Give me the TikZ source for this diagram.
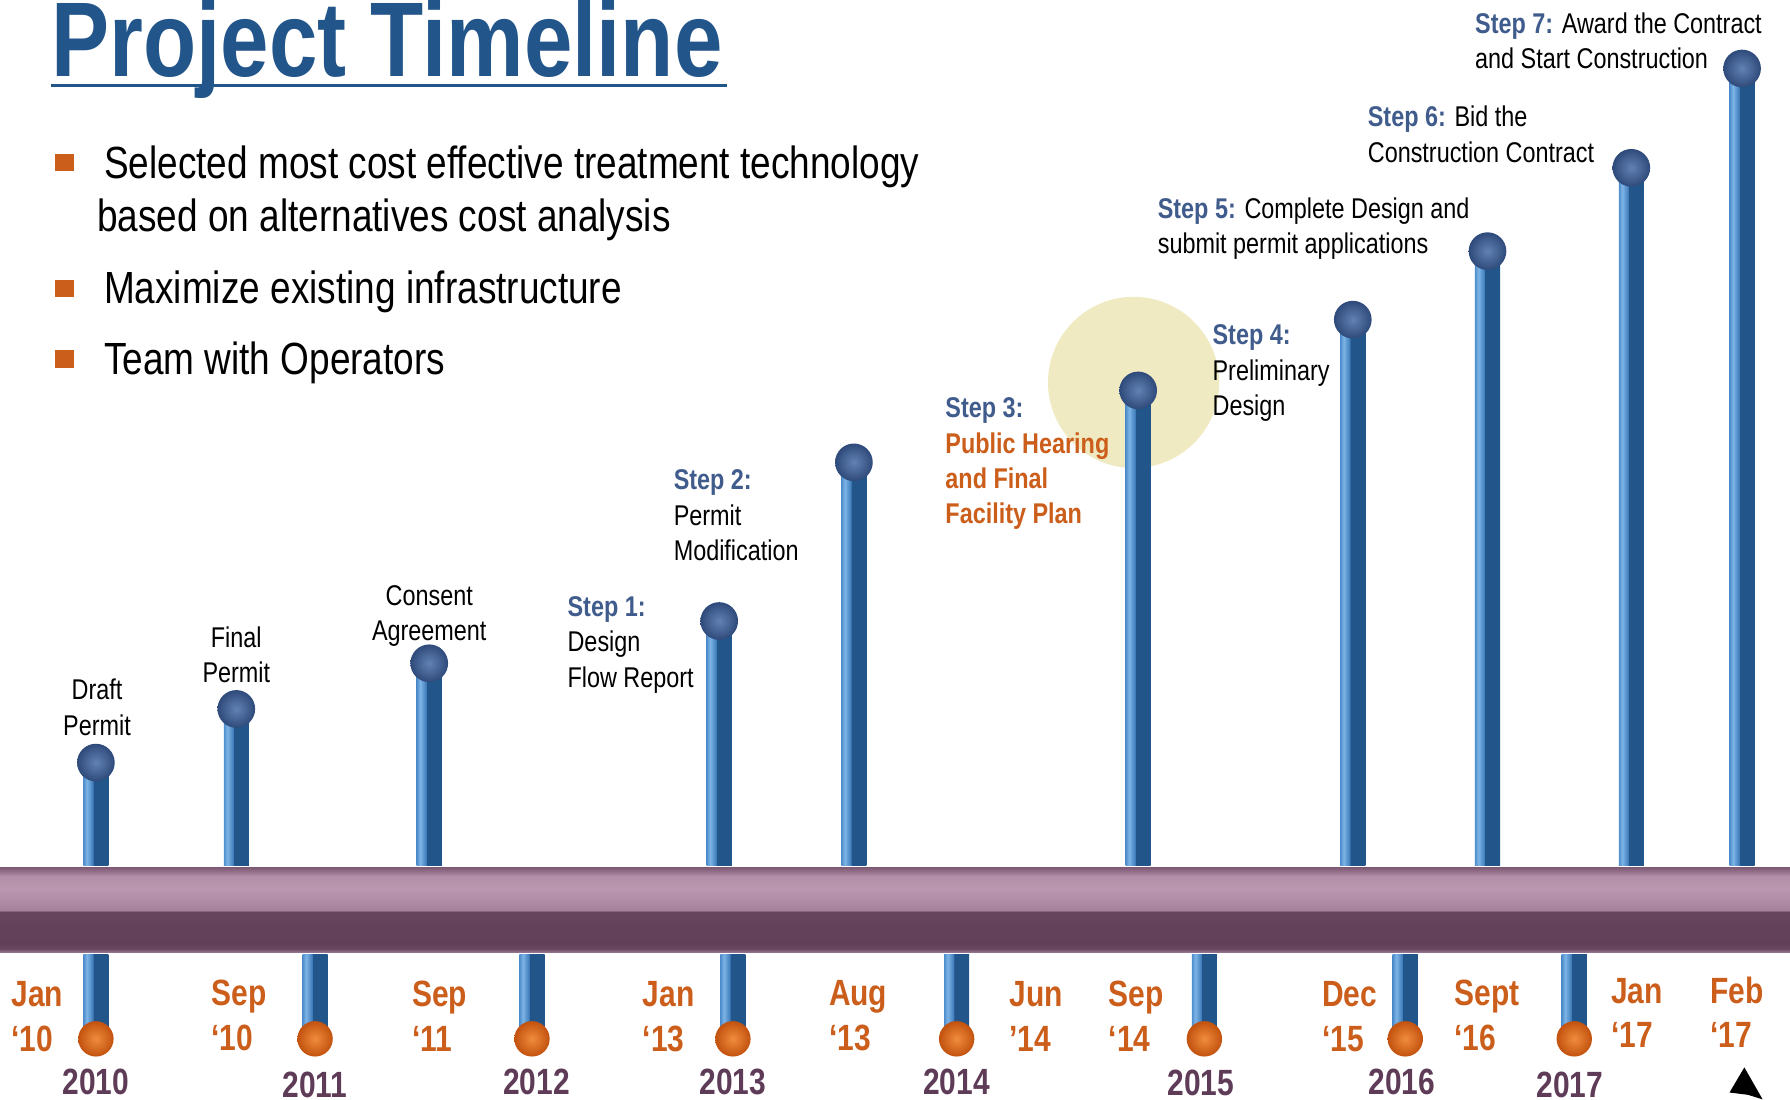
\documentclass[tikz,border=0pt]{standalone}
\usepackage{fontspec}
\setmainfont{Liberation Sans}[FakeStretch=0.82]
\usepackage{tikz}
\usetikzlibrary{positioning}

\definecolor{titleblue}{HTML}{22558A}
\definecolor{stepblue}{HTML}{3F5C8C}
\definecolor{orangetext}{HTML}{CC5E1C}
\definecolor{yearpurple}{HTML}{5E3B57}
\definecolor{yellowglow}{HTML}{F0EAC3}
\definecolor{ballhi}{HTML}{6282B4}
\definecolor{balldark}{HTML}{2E4A7A}
\definecolor{orangehi}{HTML}{F08C3C}
\definecolor{orangedark}{HTML}{C2520F}
\definecolor{stemedge}{HTML}{4F8DCC}
\definecolor{stemlight}{HTML}{7DB4E6}
\definecolor{stemmid}{HTML}{3F7CBA}
\definecolor{stemdark}{HTML}{22568A}
\definecolor{bartop}{HTML}{7F5B76}
\definecolor{barlight}{HTML}{BB97B0}
\definecolor{barmid}{HTML}{A6819B}
\definecolor{bardark}{HTML}{623F58}
\definecolor{barbottom}{HTML}{937490}

\pgfdeclarehorizontalshading{stemshade}{100bp}{color(0bp)=(stemedge);
  color(25bp)=(stemedge); color(32bp)=(stemlight); color(44bp)=(stemmid);
  color(45bp)=(stemdark); color(75bp)=(stemdark); color(100bp)=(stemdark)}
\pgfdeclareverticalshading{barshade}{100bp}{color(0bp)=(barbottom);
  color(25bp)=(barbottom); color(27bp)=(bardark!85!barbottom); color(30bp)=(bardark);
  color(49bp)=(bardark!92!barmid); color(49.6bp)=(barmid); color(62bp)=(barlight);
  color(70bp)=(barlight!85!bartop); color(73bp)=(bartop!70!barlight); color(75bp)=(bartop);
  color(100bp)=(bartop)}

\begin{document}
\begin{tikzpicture}[x=1pt, y=-1pt,
  stembar/.style={shade, shading=stemshade, minimum width=22pt, inner sep=0pt, outer sep=0pt},
  blueball/.style={circle, inner color=ballhi, outer color=balldark, minimum size=33pt, inner sep=0pt},
  orangeball/.style={circle, inner color=orangehi, outer color=orangedark, minimum size=31pt, inner sep=0pt},
  bulletbox/.style={fill=orangetext, minimum width=17pt, minimum height=15pt, inner sep=0pt},
  bullettext/.style={font=\fontsize{39.5}{47}\selectfont, align=left, anchor=base west, inner sep=0pt},
  steplabel/.style={font=\fontsize{25}{31}\selectfont, align=left, anchor=base west, inner sep=0pt},
  eventlabel/.style={font=\fontsize{25}{31}\selectfont, align=center, anchor=base, inner sep=0pt},
  monthlabel/.style={font=\bfseries\fontsize{32}{39}\selectfont, text=orangetext, align=left, anchor=base west, inner sep=0pt},
  yearlabel/.style={font=\bfseries\fontsize{32}{39}\selectfont, text=yearpurple, anchor=base, inner sep=0pt}]
\useasboundingbox (0,0) rectangle (1568,963);
% Title and bullets
\node[font=\bfseries\fontsize{93}{100}\selectfont, text=titleblue, anchor=base west, inner sep=0pt] (title) at (45,67) {Project Timeline};
\coordinate (ulstart) at (45,75);
\coordinate (ulend) at (637,75);
\draw[titleblue, line width=2.5pt] (ulstart) -- (ulend);
\node[bulletbox] (q1) at (56.5,142.5) {};
\node[bulletbox] (q2) at (56.5,252.5) {};
\node[bulletbox] (q3) at (56.5,314.5) {};
\node[bullettext] (t1) at (85,203) {\hspace*{6pt}Selected most cost effective treatment technology\\based on alternatives cost analysis};
\node[bullettext] (t2) at (91,266) {Maximize existing infrastructure};
\node[bullettext] (t3) at (91,328) {Team with Operators};
% Highlight
\node[circle, fill=yellowglow, minimum size=150pt, inner sep=0pt] (glow) at (993,335) {};
% Timeline bar
\path[shade, shading=barshade] (0,760) rectangle (1568,834);
% Upper stems
\node[stembar, minimum height=90pt, anchor=south] (s1) at (84,758) {};
\node[stembar, minimum height=137pt, anchor=south] (s2) at (207,758) {};
\node[stembar, minimum height=177pt, anchor=south] (s3) at (376,758) {};
\node[stembar, minimum height=214pt, anchor=south] (s4) at (630,758) {};
\node[stembar, minimum height=353pt, anchor=south] (s5) at (748,758) {};
\node[stembar, minimum height=416pt, anchor=south] (s6) at (997,758) {};
\node[stembar, minimum height=478pt, anchor=south] (s7) at (1185,758) {};
\node[stembar, minimum height=538pt, anchor=south] (s8) at (1303,758) {};
\node[stembar, minimum height=611pt, anchor=south] (s9) at (1429,758) {};
\node[stembar, minimum height=698pt, anchor=south] (s10) at (1526,758) {};
\node[blueball] (b1) at (s1.north) {};
\node[blueball] (b2) at (s2.north) {};
\node[blueball] (b3) at (s3.north) {};
\node[blueball] (b4) at (s4.north) {};
\node[blueball] (b5) at (s5.north) {};
\node[blueball] (b6) at (s6.north) {};
\node[blueball] (b7) at (s7.north) {};
\node[blueball] (b8) at (s8.north) {};
\node[blueball] (b9) at (s9.north) {};
\node[blueball] (b10) at (s10.north) {};
% Lower stems (years)
\node[stembar, minimum height=74pt, anchor=north] (y1) at (84,836) {};
\node[stembar, minimum height=74pt, anchor=north] (y2) at (276,836) {};
\node[stembar, minimum height=74pt, anchor=north] (y3) at (466,836) {};
\node[stembar, minimum height=74pt, anchor=north] (y4) at (642,836) {};
\node[stembar, minimum height=74pt, anchor=north] (y5) at (838,836) {};
\node[stembar, minimum height=74pt, anchor=north] (y6) at (1055,836) {};
\node[stembar, minimum height=74pt, anchor=north] (y7) at (1231,836) {};
\node[stembar, minimum height=74pt, anchor=north] (y8) at (1379,836) {};
\node[orangeball] (o1) at (y1.south) {};
\node[orangeball] (o2) at (y2.south) {};
\node[orangeball] (o3) at (y3.south) {};
\node[orangeball] (o4) at (y4.south) {};
\node[orangeball] (o5) at (y5.south) {};
\node[orangeball] (o6) at (y6.south) {};
\node[orangeball] (o7) at (y7.south) {};
\node[orangeball] (o8) at (y8.south) {};
% Event labels (anchored at the last baseline)
\node[eventlabel] (draft) at (85,644) {Draft\\Permit};
\node[eventlabel] (final) at (207,598) {Final\\Permit};
\node[eventlabel] (consent) at (376,561) {Consent\\Agreement};
\node[steplabel] (step1) at (497,602) {{\color{stepblue}\bfseries Step 1:}\\Design\\Flow Report};
\node[steplabel] (step2) at (590,491) {{\color{stepblue}\bfseries Step 2:}\\Permit\\Modification};
\node[steplabel, font=\bfseries\fontsize{25}{31}\selectfont, text=orangetext] (step3) at (828,459) {{\color{stepblue}Step 3:}\\Public Hearing\\and Final\\Facility Plan};
\node[steplabel] (step4) at (1062,364) {{\color{stepblue}\bfseries Step 4:}\\Preliminary\\Design};
\node[steplabel] (step5) at (1014,222) {{\color{stepblue}\bfseries Step 5:} Complete Design and\\submit permit applications};
\node[steplabel] (step6) at (1198,142) {{\color{stepblue}\bfseries Step 6:} Bid the\\Construction Contract};
\node[steplabel] (step7) at (1292,60) {{\color{stepblue}\bfseries Step 7:} Award the Contract\\and Start Construction};
% Dates
\node[monthlabel] (m1) at (10,921) {Jan\\‘10};
\node[monthlabel] (m2) at (185,920) {Sep\\‘10};
\node[monthlabel] (m3) at (361,921) {Sep\\‘11};
\node[monthlabel] (m4) at (563,921) {Jan\\‘13};
\node[monthlabel] (m5) at (726,920) {Aug\\‘13};
\node[monthlabel] (m6) at (884,921) {Jun\\’14};
\node[monthlabel] (m7) at (971,921) {Sep\\‘14};
\node[monthlabel] (m8) at (1158,921) {Dec\\‘15};
\node[monthlabel] (m9) at (1274,920) {Sept\\‘16};
\node[monthlabel] (m10) at (1411,918) {Jan\\‘17};
\node[monthlabel] (m11) at (1498,918) {Feb\\‘17};
\node[yearlabel] (yr1) at (84,959) {2010};
\node[yearlabel] (yr2) at (276,961) {2011};
\node[yearlabel] (yr3) at (470,959) {2012};
\node[yearlabel] (yr4) at (642,959) {2013};
\node[yearlabel] (yr5) at (838,959) {2014};
\node[yearlabel] (yr6) at (1052,960) {2015};
\node[yearlabel] (yr7) at (1228,959) {2016};
\node[yearlabel] (yr8) at (1375,961) {2017};
% Corner mark
\fill[black] (1528,935) -- (1544,963) -- (1531,959) -- (1515,957) -- cycle;
\end{tikzpicture}
\end{document}
